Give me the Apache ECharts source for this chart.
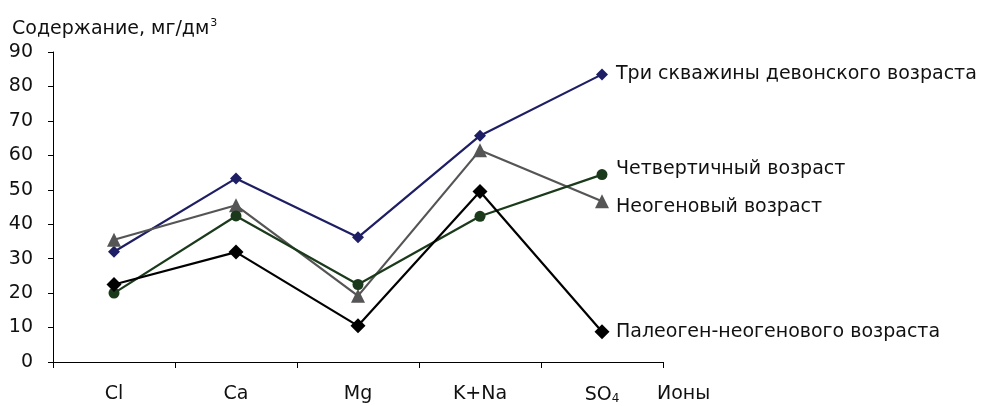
<!DOCTYPE html>
<html>
<head>
<meta charset="utf-8">
<script src="https://cdn.jsdelivr.net/npm/echarts@6/dist/echarts.min.js"></script>
<style>html,body{margin:0;padding:0;background:#fff;}#c{width:981px;height:406px;}</style>
</head>
<body>
<div id="c"></div>
<script>
const categories = ['Cl', 'Ca', 'Mg', 'K+Na', 'SO4'];
const yTicks = [0, 10, 20, 30, 40, 50, 60, 70, 80, 90];
const devonian = [32, 53.3, 36.2, 65.7, 83.5];
const quaternary = [20, 42.4, 22.5, 42.3, 54.4];
const neogene = [35.5, 45.5, 19.2, 61.5, 46.7];
const paleogeneNeogene = [22.5, 31.9, 10.5, 49.5, 8.8];

const FONT = '"DejaVu Sans", sans-serif';
const FS = 19;
const chart = echarts.init(document.getElementById('c'), null, {renderer: 'canvas'});

function mkSeries(name, data, color, symbol, size, dy) {
  return {
    name: name, type: 'line', data: data,
    symbol: symbol, symbolSize: size,
    lineStyle: {color: color, width: 2.2},
    itemStyle: {color: color},
    emphasis: {disabled: true},
    animation: false,
    endLabel: {
      show: true, formatter: '{a}', distance: 14, offset: [0, dy],
      color: '#111', fontSize: FS, fontFamily: FONT
    }
  };
}

chart.setOption({
  backgroundColor: '#fff',
  animation: false,
  title: {
    left: 7, top: 13,
    text: '{a|Содержание, мг/дм}{s|3}',
    textStyle: {
      fontWeight: 'normal',
      rich: {
        a: {fontSize: FS, fontFamily: FONT, color: '#111', fontWeight: 'normal'},
        s: {fontSize: 11, fontFamily: FONT, color: '#111', fontWeight: 'normal', verticalAlign: 'top', padding: [0, 0, 12, 1]}
      }
    }
  },
  grid: {left: 53, right: 318, top: 52, bottom: 44, containLabel: false},
  xAxis: {
    type: 'category', data: categories, boundaryGap: true,
    axisLine: {lineStyle: {color: '#000', width: 1}},
    axisTick: {show: true, interval: 0, length: 6, lineStyle: {color: '#000'}},
    axisLabel: {
      interval: 0, hideOverlap: false,
      margin: 23, color: '#111', fontSize: FS, fontFamily: FONT,
      formatter: function (v) { return v === 'SO4' ? '{n|SO}{s|4}' : v; },
      rich: {
        n: {fontSize: FS, fontFamily: FONT, color: '#111'},
        s: {fontSize: 12, fontFamily: FONT, color: '#111', padding: [8, 0, 0, 0]}
      }
    },
    name: 'Ионы', nameLocation: 'end', nameGap: -6,
    nameTextStyle: {color: '#111', fontSize: FS, fontFamily: FONT, align: 'left', verticalAlign: 'top', padding: [23, 0, 0, 0]}
  },
  yAxis: {
    type: 'value', min: yTicks[0], max: yTicks[yTicks.length - 1], interval: 10,
    splitLine: {show: false},
    axisLine: {show: true, lineStyle: {color: '#000', width: 1}},
    axisTick: {show: true, length: 5, lineStyle: {color: '#000'}},
    axisLabel: {margin: 20, color: '#111', fontSize: FS, fontFamily: FONT}
  },
  series: [
    mkSeries('Три скважины девонского возраста', devonian, '#1e1e64', 'diamond', 12, 0),
    mkSeries('Неогеновый возраст', neogene, '#555555', 'triangle', 14, 6),
    mkSeries('Четвертичный возраст', quaternary, '#1b3a1b', 'circle', 11, -6),
    mkSeries('Палеоген-неогенового возраста', paleogeneNeogene, '#000000', 'diamond', 15, 0)
  ]
});
</script>
</body>
</html>
